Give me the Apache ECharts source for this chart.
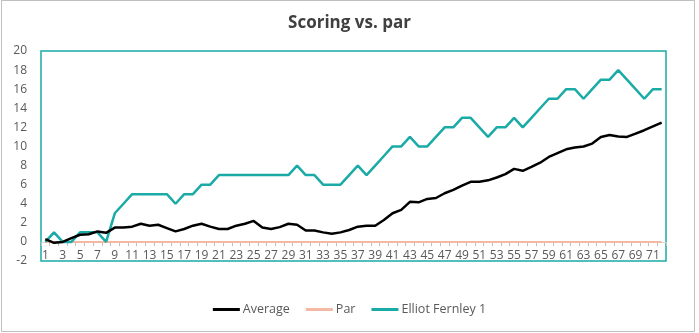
<!DOCTYPE html>
<html>
<head>
<meta charset="utf-8">
<script src="https://cdn.jsdelivr.net/npm/echarts@6/dist/echarts.min.js"></script>
<style>
  html, body { margin: 0; padding: 0; background: #fff; }
  #chart { width: 699px; height: 333px; }
</style>
</head>
<body>
<div id="chart"></div>
<script>
// Hole numbers 1..72
const holes = [];
for (let h = 1; h <= 72; h++) holes.push(String(h));

// Cumulative score relative to par
const average = [
  0.3, -0.1, 0.0, 0.4, 0.75, 0.8, 1.1, 0.95, 1.5, 1.5,
  1.6, 1.9, 1.7, 1.8, 1.45, 1.1, 1.35, 1.7, 1.9, 1.6,
  1.35, 1.35, 1.7, 1.9, 2.2, 1.5, 1.35, 1.55, 1.9, 1.8,
  1.2, 1.2, 1.0, 0.85, 1.0, 1.25, 1.6, 1.7, 1.7, 2.3,
  3.0, 3.35, 4.2, 4.15, 4.5, 4.6, 5.1, 5.45, 5.9, 6.3,
  6.3, 6.45, 6.75, 7.1, 7.65, 7.45, 7.85, 8.3, 8.9, 9.3,
  9.7, 9.9, 10.0, 10.3, 11.0, 11.2, 11.05, 11.0, 11.35, 11.7,
  12.1, 12.5
];
const par = holes.map(() => 0);
const elliot = [
  0, 1, 0, 0, 1, 1, 1, 0, 3, 4,
  5, 5, 5, 5, 5, 4, 5, 5, 6, 6,
  7, 7, 7, 7, 7, 7, 7, 7, 7, 8,
  7, 7, 6, 6, 6, 7, 8, 7, 8, 9,
  10, 10, 11, 10, 10, 11, 12, 12, 13, 13,
  12, 11, 12, 12, 13, 12, 13, 14, 15, 15,
  16, 16, 15, 16, 17, 17, 18, 17, 16, 15,
  16, 16
];

const teal = '#1AABA6';
const font = '"Open Sans", "Noto Sans", sans-serif';

const chart = echarts.init(document.getElementById('chart'), null, { renderer: 'canvas' });
chart.setOption({
  animation: false,
  backgroundColor: '#fff',
  textStyle: { fontFamily: font },
  title: {
    text: 'Scoring vs. par',
    left: 'center',
    top: 10,
    textStyle: { fontFamily: font, fontSize: 17, fontWeight: 'bold', color: '#404040' }
  },
  legend: {
    bottom: 12,
    left: 'center',
    itemWidth: 27,
    itemHeight: 3,
    itemGap: 16,
    icon: 'rect',
    textStyle: { fontFamily: font, fontSize: 12.5, color: '#595959', padding: [0, 0, 0, -2] },
    data: ['Average', 'Par', 'Elliot Fernley 1']
  },
  grid: {
    left: 41, right: 33, top: 51, bottom: 72,
    show: true, borderColor: teal, borderWidth: 1.5, backgroundColor: 'transparent'
  },
  xAxis: {
    type: 'category',
    data: holes,
    boundaryGap: true,
    // category axis crosses the value axis at 0 (19px above the grid bottom)
    offset: -19,
    axisLine: { onZero: false, lineStyle: { color: '#d9d9d9', width: 1 } },
    axisTick: { show: true, interval: 0, length: 4, lineStyle: { color: '#bfbfbf' } },
    axisLabel: { interval: 1, fontSize: 12, color: '#595959', margin: 8, fontFamily: font }
  },
  yAxis: {
    type: 'value',
    min: -2, max: 20, interval: 2,
    splitLine: { show: false },
    axisLine: { show: false },
    axisTick: { show: false },
    axisLabel: { fontSize: 12, color: '#595959', margin: 14, fontFamily: font }
  },
  series: [
    {
      name: 'Average', type: 'line', data: average,
      symbol: 'none', z: 4,
      lineStyle: { color: '#000000', width: 2.5 }, itemStyle: { color: '#000000' }
    },
    {
      name: 'Par', type: 'line', data: par,
      symbol: 'none', z: 2,
      lineStyle: { color: '#F4B9A3', width: 2 }, itemStyle: { color: '#F4B9A3' }
    },
    {
      name: 'Elliot Fernley 1', type: 'line', data: elliot,
      symbol: 'none', z: 3,
      lineStyle: { color: teal, width: 2.5 }, itemStyle: { color: teal }
    }
  ],
  graphic: [
    {
      type: 'rect', silent: true,
      shape: { x: 1.5, y: 0.5, width: 693, height: 331 },
      style: { fill: 'none', stroke: '#bfbfbf', lineWidth: 1 }
    }
  ]
});
</script>
</body>
</html>
